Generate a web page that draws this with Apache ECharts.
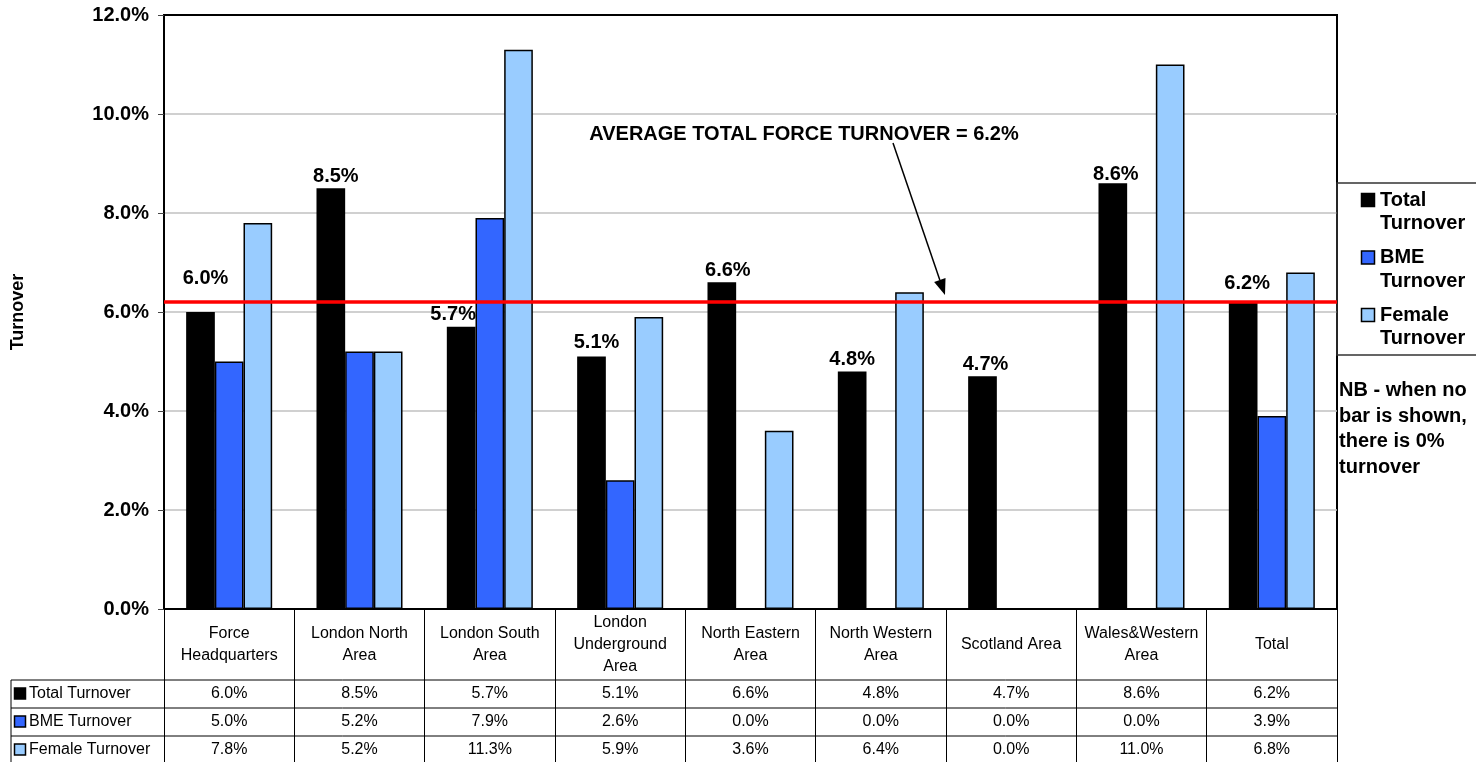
<!DOCTYPE html>
<html>
<head>
<meta charset="utf-8">
<script src="https://cdn.jsdelivr.net/npm/echarts@6/dist/echarts.min.js"></script>
<style>
  html, body { margin: 0; padding: 0; background: #ffffff; }
  #chart { width: 1476px; height: 762px; }
</style>
</head>
<body>
<div id="chart"></div>
<script>
// Staff turnover by area, with the force-wide average as a reference line
const categories = ['Force\nHeadquarters', 'London North\nArea', 'London South\nArea', 'London\nUnderground\nArea',
  'North Eastern\nArea', 'North Western\nArea', 'Scotland Area', 'Wales&Western\nArea', 'Total'];
const seriesNames = ['Total Turnover', 'BME Turnover', 'Female Turnover'];
const totalTurnover = [6.0, 8.5, 5.7, 5.1, 6.6, 4.8, 4.7, 8.6, 6.2];
const bmeTurnover = [5.0, 5.2, 7.9, 2.6, 0.0, 0.0, 0.0, 0.0, 3.9];
const femaleTurnover = [7.8, 5.2, 11.3, 5.9, 3.6, 6.4, 0.0, 11.0, 6.8];
const averageTurnover = 6.2;
const averageText = 'AVERAGE TOTAL FORCE TURNOVER = 6.2%';
const noteText = 'NB - when no\nbar is shown,\nthere is 0%\nturnover';

// Styling
const FONT = '"Liberation Sans", Arial, Helvetica, sans-serif';
const seriesColors = ['#000000', '#3366FF', '#99CCFF'];
// nudges for the value labels on the total bars, so they clear the average line
const totalLabelShift = [[5, -22], [5, 0], [-8, 0], [5, -2], [6, 0], [0, 0], [3, 0], [3, 3], [4, -7]];

const valueSets = [totalTurnover, bmeTurnover, femaleTurnover];
const pct = v => v.toFixed(1) + '%';

const chart = echarts.init(document.getElementById('chart'), null, { renderer: 'canvas' });

const series = valueSets.map((vals, s) => {
  const item = {
    name: seriesNames[s],
    type: 'bar',
    barGap: '0%',
    barCategoryGap: '34%',
    itemStyle: { color: seriesColors[s], borderColor: '#000', borderWidth: 1.5 },
    data: vals.map((v, i) => s === 0
      ? { value: v, label: { offset: totalLabelShift[i] } }
      : v)
  };
  if (s === 0) {
    item.label = {
      show: true, position: 'top', distance: 2,
      formatter: p => pct(p.value),
      fontFamily: FONT, fontSize: 20, fontWeight: 'bold', color: '#000'
    };
  }
  if (s === 2) {
    item.markLine = {
      silent: true, symbol: ['none', 'none'], z: 10,
      label: { show: false },
      lineStyle: { color: '#FF0000', width: 3.5, type: 'solid' },
      emphasis: { disabled: true },
      data: [{ yAxis: averageTurnover }]
    };
  }
  return item;
});

chart.setOption({
  animation: false,
  backgroundColor: '#ffffff',
  textStyle: { fontFamily: FONT },
  grid: {
    left: 164, right: 139, top: 15, bottom: 153,
    show: true, borderColor: '#000', borderWidth: 2,
    outerBoundsMode: 'none'
  },
  xAxis: {
    type: 'category',
    data: categories,
    boundaryGap: true,
    axisLine: { lineStyle: { color: '#000', width: 2 } },
    axisTick: { show: true, length: 153, lineStyle: { color: '#000', width: 1 } },
    axisLabel: {
      interval: 0, fontFamily: FONT, fontSize: 16, lineHeight: 22, color: '#000',
      verticalAlign: 'middle', margin: 35.5
    },
    splitLine: { show: false }
  },
  yAxis: {
    type: 'value', min: 0, max: 12, interval: 2,
    name: 'Turnover', nameLocation: 'middle', nameGap: 137, nameRotate: 90,
    nameTextStyle: { fontFamily: FONT, fontSize: 18, fontWeight: 'bold', color: '#000' },
    axisLine: { show: true, lineStyle: { color: '#000', width: 2 } },
    axisTick: { show: true, length: 6, lineStyle: { color: '#444', width: 1 } },
    axisLabel: { formatter: pct, fontFamily: FONT, fontSize: 20, fontWeight: 'bold', color: '#000', margin: 15 },
    splitLine: { showMaxLine: false, showMinLine: false, lineStyle: { color: '#c0c0c0', width: 1.5 } }
  },
  series: series
});

// Data table, legend box, note and annotation placed from the axis scales
function buildGraphics() {
  const cx = i => chart.convertToPixel({ xAxisIndex: 0 }, i);
  const band = cx(1) - cx(0);
  const xLeft = cx(0) - band / 2;
  const xRight = cx(categories.length - 1) + band / 2;
  const yBase = chart.convertToPixel({ yAxisIndex: 0 }, 0);
  const yTop = chart.convertToPixel({ yAxisIndex: 0 }, 12);
  const yAvg = chart.convertToPixel({ yAxisIndex: 0 }, averageTurnover);

  const g = [];
  const headerBottom = yBase + 71;
  const rowH = 28;
  const tableLeft = 11;

  // plot frame top edge
  g.push({ type: 'line', shape: { x1: xLeft, y1: yTop, x2: xRight, y2: yTop },
    style: { stroke: '#000', lineWidth: 2 }, z: 10, silent: true });

  // horizontal rules of the table
  for (let r = 0; r < 3; r++) {
    const y = headerBottom + r * rowH;
    g.push({ type: 'line', shape: { x1: tableLeft, y1: y, x2: xRight, y2: y },
      style: { stroke: '#000', lineWidth: 1 }, silent: true });
  }
  g.push({ type: 'line', shape: { x1: tableLeft, y1: headerBottom, x2: tableLeft, y2: 762 },
    style: { stroke: '#000', lineWidth: 1 }, silent: true });

  // row headers with keys, then values
  valueSets.forEach((vals, s) => {
    const yc = headerBottom + s * rowH + rowH / 2;
    g.push({ type: 'rect', shape: { x: 14.5, y: yc - 6, width: 11, height: 11 },
      style: { fill: seriesColors[s], stroke: '#000', lineWidth: 1.5 }, silent: true });
    g.push({ type: 'text', x: 29, y: yc,
      style: { text: seriesNames[s], font: '16px ' + FONT, fill: '#000', verticalAlign: 'middle', align: 'left' },
      silent: true });
    vals.forEach((v, i) => {
      g.push({ type: 'text', x: cx(i), y: yc,
        style: { text: pct(v), font: '16px ' + FONT, fill: '#000', verticalAlign: 'middle', align: 'center' },
        silent: true });
    });
  });

  // legend box
  const legTop = 183;
  g.push({ type: 'rect', shape: { x: xRight, y: legTop, width: 160, height: 172 },
    style: { fill: 'none', stroke: '#333', lineWidth: 1.5 }, silent: true });
  seriesNames.forEach((name, s) => {
    const yc = 200 + s * 57.5;
    g.push({ type: 'rect', shape: { x: 1361.5, y: yc - 6.5, width: 13, height: 13 },
      style: { fill: seriesColors[s], stroke: '#000', lineWidth: 1.5 }, silent: true });
    g.push({ type: 'text', x: 1380, y: yc - 11.5,
      style: { text: name.replace(' ', '\n'), font: 'bold 20px ' + FONT, lineHeight: 23.5,
        fill: '#000', verticalAlign: 'top', align: 'left' }, silent: true });
  });

  // note under the legend
  g.push({ type: 'text', x: 1339, y: 378,
    style: { text: noteText, font: 'bold 20px ' + FONT, lineHeight: 25.5, fill: '#000',
      verticalAlign: 'top', align: 'left' }, silent: true });

  // average annotation and its arrow
  g.push({ type: 'text', x: 804, y: 134,
    style: { text: averageText, font: 'bold 20px ' + FONT, fill: '#000', align: 'center', verticalAlign: 'middle' },
    silent: true });
  const tip = [945, yAvg - 7];
  const start = [893, 143];
  const dx = tip[0] - start[0], dy = tip[1] - start[1];
  const len = Math.sqrt(dx * dx + dy * dy);
  const ux = dx / len, uy = dy / len;
  const headLen = 16, headHalf = 6;
  const base = [tip[0] - ux * headLen, tip[1] - uy * headLen];
  g.push({ type: 'line', shape: { x1: start[0], y1: start[1], x2: base[0], y2: base[1] },
    style: { stroke: '#000', lineWidth: 1.5 }, silent: true });
  g.push({ type: 'polygon', shape: { points: [
      tip,
      [base[0] - uy * headHalf, base[1] + ux * headHalf],
      [base[0] + uy * headHalf, base[1] - ux * headHalf]
    ] }, style: { fill: '#000' }, silent: true });

  chart.setOption({ graphic: { elements: g } });
}

buildGraphics();
</script>
</body>
</html>
